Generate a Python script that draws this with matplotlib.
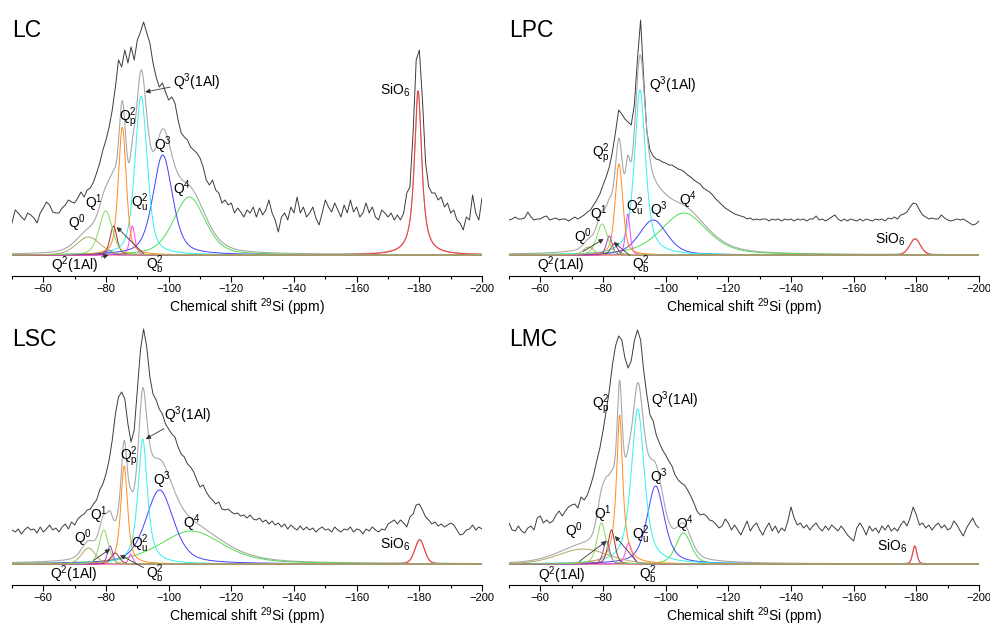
import numpy as np
import matplotlib
matplotlib.use('Agg')
from matplotlib import pyplot as plt
from matplotlib.ticker import MultipleLocator

plt.rcParams['font.family'] = ['Liberation Sans', 'DejaVu Sans']
plt.rcParams['mathtext.fontset'] = 'custom'
plt.rcParams['mathtext.rm'] = 'Liberation Sans'
plt.rcParams['mathtext.it'] = 'Liberation Sans:italic'

# fitted components (order is the same in every panel)
names = ['Q0', 'Q1', 'Q2(1Al)', 'Q2b', 'Q2p', 'Q2u', 'Q3(1Al)', 'Q3', 'Q4', 'SiO6']
colors = ['#b0a860', '#88d860', '#9a40d0', '#a03030', '#ff8c1a', '#ff40ff',
          '#30f0f0', '#4040ff', '#50dd50', '#ff3838']

# peak position (ppm), height, fwhm (ppm), lorentzian fraction
lc_center = [-74.4, -79.9, -81.0, -82.4, -85.2, -88.4, -91.2, -98.1, -106.6, -179.6]
lc_height = [18, 44, 5, 29, 128, 29, 159, 100, 58, 164]
lc_fwhm = [9.0, 5.0, 2.0, 2.6, 3.0, 1.9, 4.6, 7.4, 12.0, 2.8]
lc_eta = [0.3, 0.4, 0.5, 0.5, 0.5, 0.5, 0.5, 0.5, 0.4, 0.9]

lpc_center = [-75.4, -79.7, -82.0, -83.5, -85.1, -87.9, -91.8, -96.0, -105.8, -179.6]
lpc_height = [8, 31, 19, 11, 91, 41, 165, 35, 42, 16]
lpc_fwhm = [4.0, 4.0, 2.2, 2.6, 2.9, 1.7, 4.2, 10.5, 17.5, 4.0]
lpc_eta = [0.3, 0.4, 0.4, 0.4, 0.5, 0.4, 0.7, 0.4, 0.5, 0.2]

lsc_center = [-74.4, -79.3, -81.3, -82.9, -85.8, -87.9, -91.7, -97.1, -107.2, -180.1]
lsc_height = [16, 34, 18, 11, 98, 10, 125, 74, 33, 24]
lsc_fwhm = [5.2, 3.4, 2.0, 3.2, 2.6, 1.6, 3.6, 10.5, 24.0, 3.6]
lsc_eta = [0.3, 0.3, 0.3, 0.3, 0.7, 0.3, 0.8, 0.5, 0.5, 0.2]

lmc_center = [-73.7, -79.5, -81.1, -82.7, -85.3, -88.2, -91.1, -96.8, -105.7, -179.5]
lmc_height = [15, 41, 23, 34, 149, 21, 155, 78, 31, 18]
lmc_fwhm = [19.0, 3.4, 2.4, 2.6, 2.4, 2.4, 5.0, 6.6, 5.8, 1.6]
lmc_eta = [0.2, 0.4, 0.4, 0.4, 1.0, 0.4, 0.7, 0.6, 0.4, 0.3]

# measured spectra, one value per ppm from -50 to -200
exp_ppm = np.arange(-50, -201, -1)
lc_exp = [32, 45, 42, 38, 35, 42, 40, 37, 32, 42, 47, 53, 50, 43, 42, 42, 47, 50, 55, 53,
          52, 57, 63, 58, 65, 67, 73, 82, 92, 105, 115, 128, 145, 168, 195, 188, 205, 192, 208, 195,
          215, 223, 233, 222, 212, 192, 178, 168, 172, 163, 155, 158, 152, 135, 122, 118, 115, 108, 105, 102,
          97, 88, 75, 70, 75, 65, 62, 52, 55, 50, 52, 42, 47, 43, 38, 45, 42, 48, 38, 47,
          40, 45, 55, 42, 35, 23, 38, 42, 35, 48, 42, 58, 42, 48, 38, 42, 48, 37, 30, 42,
          55, 48, 43, 52, 45, 38, 50, 42, 55, 43, 48, 38, 42, 52, 42, 48, 38, 35, 45, 42,
          38, 42, 35, 40, 35, 42, 62, 68, 122, 195, 205, 155, 92, 68, 62, 62, 55, 58, 48, 52,
          42, 45, 35, 32, 25, 38, 35, 60, 42, 35, 57]
lpc_exp = [35, 36, 38, 36, 36, 37, 43, 38, 35, 36, 36, 38, 39, 35, 36, 37, 35, 36, 36, 34,
           36, 38, 36, 38, 40, 43, 45, 50, 55, 61, 70, 78, 88, 103, 123, 145, 141, 136, 133, 130,
           150, 196, 235, 176, 123, 105, 99, 96, 95, 93, 92, 90, 90, 88, 86, 85, 83, 80, 78, 75,
           73, 71, 67, 65, 63, 60, 56, 53, 50, 47, 45, 43, 41, 40, 39, 38, 36, 37, 35, 36,
           35, 36, 36, 34, 36, 35, 36, 34, 36, 35, 36, 34, 36, 35, 36, 34, 36, 36, 39, 35,
           36, 34, 36, 38, 40, 36, 34, 36, 34, 36, 35, 34, 36, 34, 36, 35, 34, 36, 35, 36,
           34, 37, 36, 38, 36, 40, 41, 43, 48, 52, 51, 45, 40, 38, 36, 37, 36, 36, 40, 37,
           35, 34, 35, 36, 35, 36, 34, 32, 30, 31, 34]
lsc_exp = [34, 32, 35, 30, 34, 37, 34, 35, 31, 37, 32, 35, 39, 34, 36, 32, 37, 40, 35, 42,
           39, 45, 48, 50, 54, 55, 60, 64, 74, 80, 90, 104, 124, 150, 167, 172, 165, 140, 122, 134,
           174, 214, 235, 217, 187, 170, 164, 155, 150, 140, 135, 130, 127, 117, 110, 107, 100, 97, 92, 84,
           77, 79, 72, 67, 64, 60, 62, 55, 54, 55, 52, 50, 51, 48, 49, 46, 49, 45, 44, 46,
           42, 44, 40, 43, 39, 41, 37, 40, 35, 39, 36, 34, 38, 34, 37, 34, 36, 32, 35, 37,
           34, 35, 32, 37, 34, 32, 35, 34, 37, 32, 35, 34, 30, 35, 33, 37, 34, 32, 35, 34,
           40, 42, 44, 40, 44, 41, 37, 47, 50, 59, 60, 54, 47, 44, 40, 42, 38, 40, 37, 39,
           41, 39, 34, 29, 30, 34, 35, 39, 34, 37, 35]
lmc_exp = [41, 34, 33, 38, 33, 31, 36, 38, 34, 46, 48, 41, 44, 41, 43, 49, 53, 48, 53, 57,
           59, 60, 56, 67, 64, 69, 78, 89, 103, 116, 133, 153, 173, 199, 218, 228, 224, 206, 196, 203,
           223, 234, 224, 193, 169, 149, 143, 129, 121, 114, 109, 103, 98, 89, 84, 81, 79, 74, 68, 61,
           53, 49, 50, 48, 44, 43, 40, 36, 38, 45, 41, 34, 39, 34, 29, 36, 43, 33, 38, 41,
           34, 29, 36, 41, 33, 38, 31, 36, 33, 43, 57, 46, 39, 41, 36, 39, 34, 38, 41, 36,
           33, 38, 34, 39, 36, 33, 38, 34, 29, 26, 23, 36, 41, 36, 29, 38, 33, 36, 31, 38,
           34, 39, 33, 36, 33, 39, 43, 38, 46, 57, 49, 39, 41, 36, 39, 34, 38, 41, 36, 39,
           34, 36, 43, 39, 33, 28, 36, 41, 46, 39, 36]

panels = [
    ('LC', lc_center, lc_height, lc_fwhm, lc_eta, lc_exp),
    ('LPC', lpc_center, lpc_height, lpc_fwhm, lpc_eta, lpc_exp),
    ('LSC', lsc_center, lsc_height, lsc_fwhm, lsc_eta, lsc_exp),
    ('LMC', lmc_center, lmc_height, lmc_fwhm, lmc_eta, lmc_exp),
]

# label positions (ppm, height); arrow target if any
lc_labels = {'Q0': (-70.6, 32), 'Q1': (-76, 52), 'Q2p': (-87.1, 137), 'Q2u': (-90.8, 52),
             'Q3': (-98.3, 110), 'Q4': (-104.1, 66), 'SiO6': (-172.2, 165),
             'Q3(1Al)': (-108.9, 173, -92.5, 163), 'Q2(1Al)': (-70.1, -10, -80.8, 0),
             'Q2b': (-95.7, -10, -83.4, 28)}
lpc_labels = {'Q0': (-73.5, 18), 'Q1': (-78.6, 41), 'Q2p': (-79.2, 101), 'Q2u': (-90.3, 48),
              'Q3': (-97.8, 45), 'Q4': (-107.2, 55), 'SiO6': (-171.5, 16),
              'Q3(1Al)': (-102.3, 170), 'Q2(1Al)': (-66.6, -10, -80.2, 16),
              'Q2b': (-92.2, -10, -83.4, 13)}
lsc_labels = {'Q0': (-72.8, 26), 'Q1': (-77.6, 49), 'Q2p': (-87.4, 107), 'Q2u': (-90.9, 20),
              'Q3': (-97.8, 84), 'Q4': (-107.4, 41), 'SiO6': (-172.3, 20),
              'Q3(1Al)': (-106.0, 149, -92.7, 125), 'Q2(1Al)': (-69.8, -10, -81.3, 15),
              'Q2b': (-95.7, -10, -84.5, 9)}
lmc_labels = {'Q0': (-70.8, 33), 'Q1': (-80.1, 50), 'Q2p': (-79.3, 159), 'Q2u': (-92.0, 29),
              'Q3': (-97.7, 87), 'Q4': (-106.2, 40), 'SiO6': (-172.3, 18),
              'Q3(1Al)': (-103.0, 164), 'Q2(1Al)': (-66.7, -11, -81.1, 23),
              'Q2b': (-94.5, -11, -83.8, 28)}
all_labels = [lc_labels, lpc_labels, lsc_labels, lmc_labels]

tex = {'Q0': r'$\mathregular{Q^0}$', 'Q1': r'$\mathregular{Q^1}$',
       'Q2p': r'$\mathregular{Q^2_p}$', 'Q2u': r'$\mathregular{Q^2_u}$',
       'Q2b': r'$\mathregular{Q^2_b}$', 'Q3': r'$\mathregular{Q^3}$',
       'Q4': r'$\mathregular{Q^4}$', 'Q3(1Al)': r'$\mathregular{Q^3}$(1Al)',
       'Q2(1Al)': r'$\mathregular{Q^2}$(1Al)', 'SiO6': r'SiO$\mathregular{_6}$'}


def pvoigt(x, c, h, w, eta):
    g = np.exp(-4 * np.log(2) * ((x - c) / w) ** 2)
    l = 1 / (1 + 4 * ((x - c) / w) ** 2)
    return h * (eta * l + (1 - eta) * g)


x = np.linspace(-50, -200, 3001)
fig = plt.figure(figsize=(9.9, 6.27), dpi=100)
pos = [(12, 10), (509, 10), (12, 319), (509, 319)]

for (name, cen, hei, fw, eta, spec), labels, (px, py) in zip(panels, all_labels, pos):
    ax = fig.add_axes([px / 990, 1 - (py + 266) / 627, 470 / 990, 266 / 627])
    comps = [pvoigt(x, c, h, w, e) for c, h, w, e in zip(cen, hei, fw, eta)]
    ax.plot(exp_ppm, spec, color='#3c3c3c', lw=0.7)
    ax.plot(x, np.sum(comps, axis=0), color='#a8a8a8', lw=0.8)
    for i in [9, 8, 7, 6, 5, 4, 3, 2, 1, 0]:
        ax.plot(x, comps[i], color=colors[i], lw=0.7)

    for key, v in labels.items():
        if len(v) == 2:
            ax.text(v[0], v[1], tex[key], fontsize=10, ha='center', va='center')
        else:
            ax.annotate(tex[key], xy=(v[2], v[3]), xytext=(v[0], v[1]), fontsize=10,
                        ha='center', va='center',
                        arrowprops=dict(arrowstyle='-|>', color='#333333', lw=0.6,
                                        mutation_scale=7, shrinkA=0, shrinkB=0))

    ax.text(0.0, 0.90, name, transform=ax.transAxes, fontsize=16.5, ha='left', va='baseline')
    ax.set_xlim(-50, -200)
    ax.set_ylim(-21, 245)
    for s in ['top', 'right', 'left']:
        ax.spines[s].set_visible(False)
    ax.spines['bottom'].set_linewidth(0.8)
    ax.set_yticks([])
    ax.xaxis.set_major_locator(MultipleLocator(20))
    ax.xaxis.set_minor_locator(MultipleLocator(10))
    ax.tick_params(axis='x', which='major', direction='out', length=4, width=0.8, labelsize=8, pad=2)
    ax.tick_params(axis='x', which='minor', direction='out', length=2.5, width=0.8)
    ax.set_xlabel(r'Chemical shift $\mathregular{^{29}}$Si (ppm)', fontsize=10, labelpad=1.5)
    ax.patch.set_visible(False)

fig.savefig('out.png', dpi=100)
